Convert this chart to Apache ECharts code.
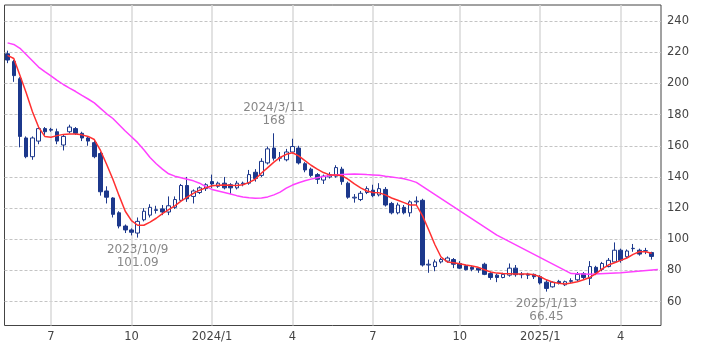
<!DOCTYPE html>
<html>
<head>
<meta charset="utf-8">
<script src="https://cdn.jsdelivr.net/npm/echarts@6/dist/echarts.min.js"></script>
<style>
html,body{margin:0;padding:0;background:#fff;}
#chart{width:709px;height:354px;}
</style>
</head>
<body>
<div id="chart"></div>
<script>
const dates = [
'2023/5/15','2023/5/22','2023/5/29','2023/6/5','2023/6/12','2023/6/19','2023/6/26','2023/7/3','2023/7/10','2023/7/17',
'2023/7/24','2023/7/31','2023/8/7','2023/8/14','2023/8/21','2023/8/28','2023/9/4','2023/9/11','2023/9/18','2023/9/25',
'2023/10/2','2023/10/9','2023/10/16','2023/10/23','2023/10/30','2023/11/6','2023/11/13','2023/11/20','2023/11/27','2023/12/4',
'2023/12/11','2023/12/18','2023/12/25','2024/1/1','2024/1/8','2024/1/15','2024/1/22','2024/1/29','2024/2/5','2024/2/12',
'2024/2/19','2024/2/26','2024/3/4','2024/3/11','2024/3/18','2024/3/25','2024/4/1','2024/4/8','2024/4/15','2024/4/22',
'2024/4/29','2024/5/6','2024/5/13','2024/5/20','2024/5/27','2024/6/3','2024/6/10','2024/6/17','2024/6/24','2024/7/1',
'2024/7/8','2024/7/15','2024/7/22','2024/7/29','2024/8/5','2024/8/12','2024/8/19','2024/8/26','2024/9/2','2024/9/9',
'2024/9/16','2024/9/23','2024/9/30','2024/10/7','2024/10/14','2024/10/21','2024/10/28','2024/11/4','2024/11/11','2024/11/18',
'2024/11/25','2024/12/2','2024/12/9','2024/12/16','2024/12/23','2024/12/30','2025/1/6','2025/1/13','2025/1/20','2025/1/27',
'2025/2/3','2025/2/10','2025/2/17','2025/2/24','2025/3/3','2025/3/10','2025/3/17','2025/3/24','2025/3/31','2025/4/7',
'2025/4/14','2025/4/21','2025/4/28','2025/5/5','2025/5/12','2025/5/19'
];
const opens = [
219,214,203,165,153,163,171,170,169,160.5,
169,171,168,165,162,155,131,126.5,117,108.5,
106,104,112.5,115.5,118.5,119.5,117.5,120.5,125,134.5,
127.5,130,132.5,137,134,136,135,133,135.5,136,
143,141,149,158.5,152,151,156,158.5,148.5,145,
141.5,138,140,140.5,145,136,126.5,125.5,130,131.5,
128.5,132,123,117,120.5,117,124,125,83.5,82.5,
85.5,86,87,84.5,83,82,81.5,84,78,77,
75.5,77,81.5,77.3,77.6,77.5,76,72.5,69.5,73,
70.8,73,74,78,75,82,80.7,82.5,85.5,93,
88.8,94,93,92.5,91.5
];
const highs = [
221,215,204,166,166,172,172,171.5,171,167,
173.5,172,169,166,164,156,134,127,118,109.5,
107,114,120,122.5,121.5,122,127.5,127.5,135.5,140,
132,134,136,141.5,137,140,136,137.5,137,144.5,
145,152,159.5,168,156,158,164.5,160,149.5,146,
142.5,141.5,143,147.5,146.5,137,129,131,134,135,
136,133.5,124,123.5,122,125,127.5,126,87,87,
88,89,88,86,83.5,83,82,85,79,78,
78.5,84.5,83.5,79,78.5,78,77,74,73,74,
73.5,75,79,79,86,83,85.5,88,98,94,
93.5,97,94,94.5,92
];
const lows = [
213,201,159,152,151,161,167,169,161,157,
168,167,163,160,152,128,123,114,107,104,
102.5,101.09,111.5,114,116.5,115.5,115.5,119.5,124,124,
123,129,131,133,133,132,129,132,134,135,
137,140,148,150.5,150,150,155,148,143,140,
135.5,135.5,139,139.5,135,126,123.5,124.5,129,127,
127.5,121,116,116,116,114.5,122,82.5,78.5,79.5,
84.5,85,81.5,81,80,79.5,78.5,77,74,72.5,
75,76,76,75,74.5,74.5,71,66.45,69,71,
70,72,73,74,70.7,77,79.5,82,85,85,
88,92,89.5,90.5,87
];
const closes = [
215,205,166,153,165,171,169,170.5,163,166,
172,168,165,163,153,130.5,127,116,108.5,106,
104.5,111.5,118,120.5,119,117.5,121.5,125.5,134.5,126,
131,133,135,135.5,136,133,133,136,136,141.5,
139,150,158,152,152.5,156,159.5,149,144.5,141,
138.5,140.5,141.5,146,137,127,127,129.5,132.5,128,
132.5,122,117,122,117,124,124.5,83.5,84,85.5,
87,88,84,81.5,80.5,80.8,80.3,77.5,75.5,75.5,
77.5,81.5,77.3,77.6,77,76,72,68.5,72.5,72,
72.8,73.5,77.5,75.5,82.5,78.6,84.5,86.5,93,86.5,
92.5,94.2,90.5,92.7,89
];
const maShort = [
218,216,205,194,182,172,166,165.5,166.5,167.3,
167.5,167.5,167,166,164,157,148,138.5,128,118,
112,109,109,111,113.5,116.5,119,121.5,124.5,127,
129.5,131.5,133,134.3,134.7,134.8,134.6,134.5,135,136.5,
138.5,142.5,146,149.5,152.5,154.5,155.5,153.5,150.5,147.5,
145,142.8,141.3,141.3,140.8,138.5,135.5,133,131,130,
129.8,128.5,126.5,125,123.5,122,122,115,106,96.5,
88.5,85.5,85,84.3,83.5,82.8,82,80.5,79,78.3,
78,77.9,77.8,77.8,77.7,77.3,76,74,72.5,71.8,
71.3,72,72.8,74,75.5,78,81,83.5,85,86.5,
88,90.3,92,92,91
];
const maLong = [
226,225,222.5,218.5,214.5,210.5,207.5,204.8,202,199.3,
197,194.8,192.3,190,187.5,184,180.5,177.5,173.5,169.5,
165.8,162,157.5,152.5,148.5,145,142,140.5,139.5,138.5,
137.5,136,133.8,132,131,130,129,128,127.2,126.6,
126.3,126.5,127.2,128.5,130.3,132.8,134.8,136.3,137.5,138.6,
139.5,140.3,140.9,141.3,141.6,141.8,141.9,141.8,141.5,141.3,
141.1,140.5,140,139.4,138.8,137.8,136.5,null,null,null,
null,null,null,null,null,null,null,null,null,102.7,
null,null,null,null,null,null,null,null,null,null,
null,78,null,null,77.6,null,null,null,null,78.5,
null,null,null,null,null,80.7
];
const yTicks = [60,80,100,120,140,160,180,200,220,240];
const quarterMonths = [1,4,7,10];
const noteDates = ['2024/3/11','2023/10/9','2025/1/13'];
const noteValues = [168,101.09,66.45];
const notePlaces = ['top','bottom','bottom'];

const NAVY = '#1c388c';
const FONT = 'DejaVu Sans';

function parts(i){ return dates[i].split('/').map(Number); }
function isQuarterStart(i){
  const m = parts(i)[1];
  if (quarterMonths.indexOf(m) < 0 || i === 0) return false;
  return parts(i-1)[1] !== m;
}

const candleData = opens.map((o,i)=>[o, closes[i], lows[i], highs[i]]);

const markPoints = noteDates.map((d,k)=>({
  coord: [d, noteValues[k]],
  value: noteValues[k],
  label: {
    show: true,
    position: notePlaces[k],
    distance: 6,
    formatter: d + '\n' + noteValues[k],
    color: '#888',
    fontFamily: FONT,
    fontSize: 12,
    lineHeight: 13,
    align: 'center'
  }
}));

const chart = echarts.init(document.getElementById('chart'), null, {renderer:'canvas'});
chart.setOption({
  animation: false,
  backgroundColor: '#fff',
  grid: { left: 4.5, right: 48, top: 5, bottom: 28.5, show: true, borderColor: '#444', borderWidth: 1, backgroundColor: '#fff' },
  xAxis: {
    type: 'category',
    data: dates,
    boundaryGap: true,
    axisLine: { show: false },
    axisTick: { show: false },
    axisLabel: {
      interval: (idx)=>isQuarterStart(idx),
      formatter: (v, idx)=>{ const p = v.split('/').map(Number); return p[1] === 1 ? p[0] + '/1' : String(p[1]); },
      color: '#444', fontFamily: FONT, fontSize: 11.5, margin: 6
    },
    splitLine: { show: true, interval: (idx)=>isQuarterStart(idx), alignWithLabel: true, lineStyle: { color: '#d9d9d9', width: 1.5 } }
  },
  yAxis: {
    type: 'value',
    position: 'right',
    min: 44.7,
    max: 250.3,
    axisLine: { show: false },
    axisTick: { show: false, customValues: yTicks },
    axisLabel: { customValues: yTicks, color: '#444', fontFamily: FONT, fontSize: 11.5, margin: 6 },
    splitLine: { show: true, lineStyle: { color: '#c4c4c4', type: [3,2], width: 1 } }
  },
  series: [
    {
      type: 'candlestick',
      data: candleData,
      barWidth: 4,
      z: 3,
      itemStyle: { color: '#fff', color0: NAVY, borderColor: NAVY, borderColor0: NAVY, borderWidth: 1 },
      markPoint: { symbol: 'circle', symbolSize: 0, silent: true, data: markPoints }
    },
    {
      type: 'line', data: maLong, connectNulls: true, showSymbol: false, symbol: 'none', z: 4,
      lineStyle: { color: '#ff40ff', width: 1.5 }
    },
    {
      type: 'line', data: maShort, showSymbol: false, symbol: 'none', z: 5,
      lineStyle: { color: '#ff3030', width: 1.5 }
    }
  ]
});
</script>
</body>
</html>
